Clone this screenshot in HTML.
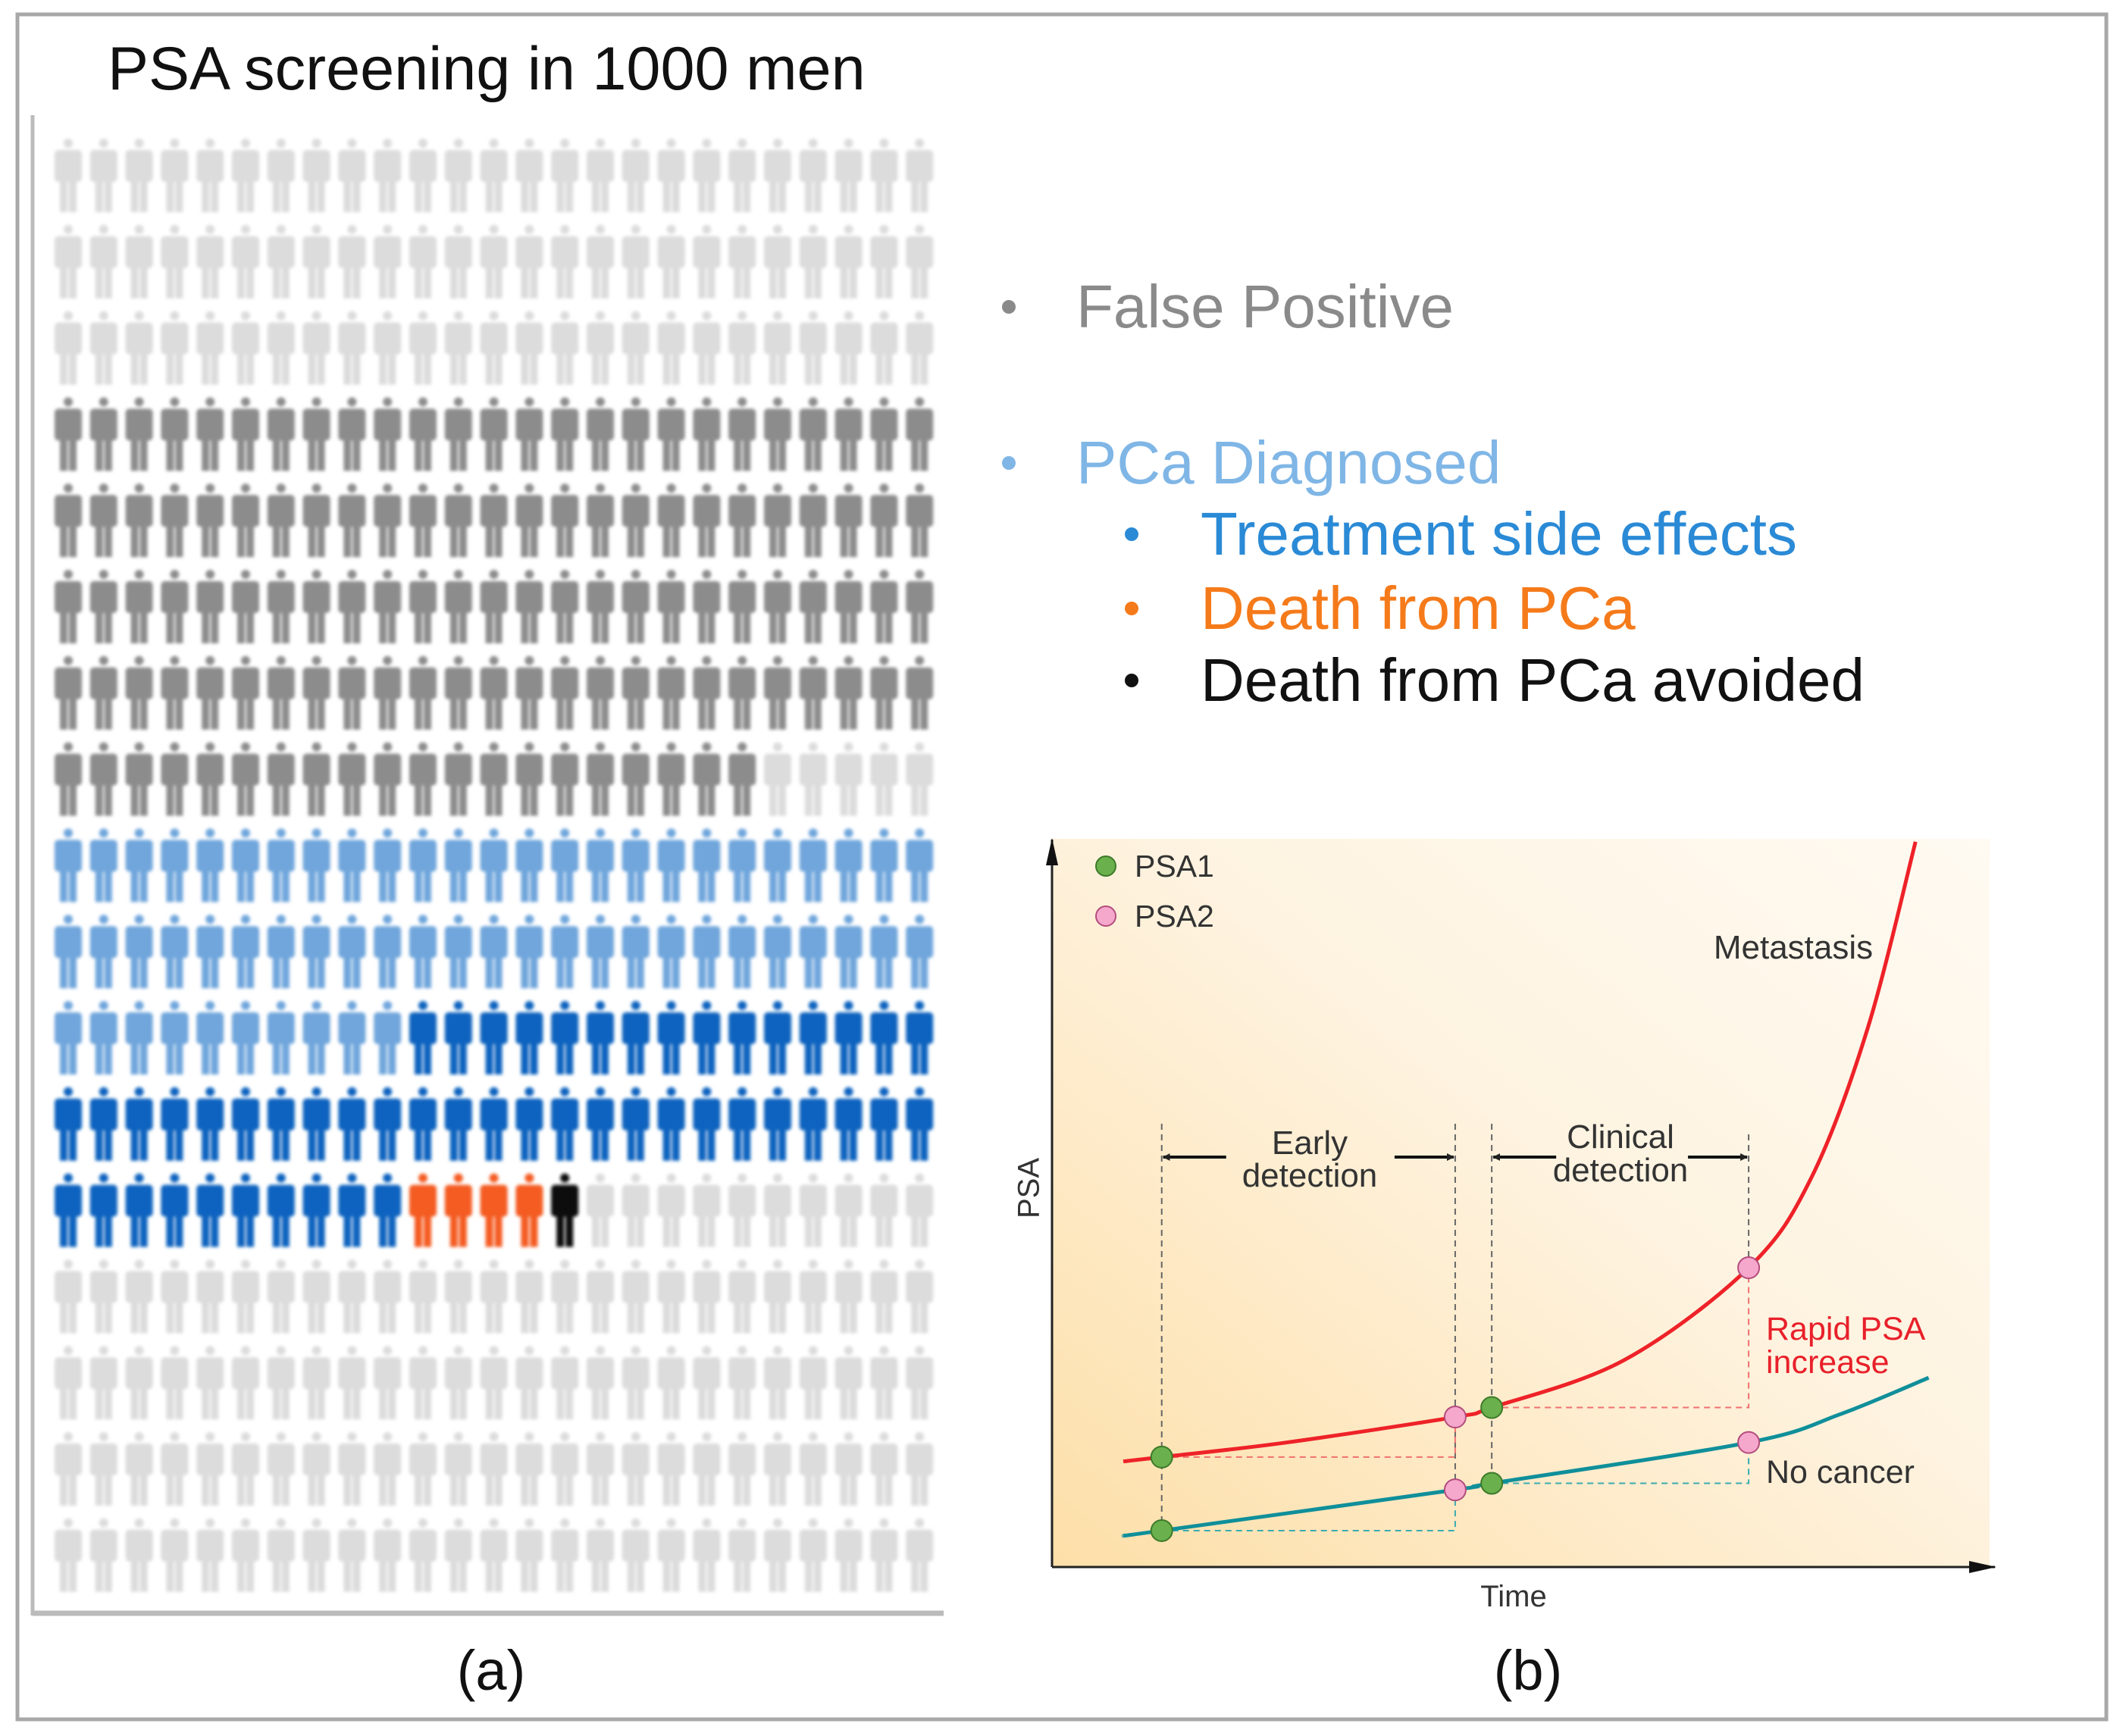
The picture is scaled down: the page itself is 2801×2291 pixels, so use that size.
<!DOCTYPE html>
<html><head><meta charset="utf-8">
<style>
html,body{margin:0;padding:0;background:#fff;}
body{width:2801px;height:2286px;position:relative;overflow:hidden;font-family:"Liberation Sans",sans-serif;}
</style></head>
<body>
<svg id="root" width="2801" height="2286" viewBox="0 0 2801 2286" xmlns="http://www.w3.org/2000/svg">
<defs>
  <filter id="blur" x="-20%" y="-20%" width="140%" height="140%"><feGaussianBlur stdDeviation="2"/></filter>
  <linearGradient id="bg" x1="0" y1="1" x2="1" y2="0">
    <stop offset="0" stop-color="#fddfa8"/>
    <stop offset="0.55" stop-color="#fef3e0"/>
    <stop offset="1" stop-color="#fffaf2"/>
  </linearGradient>
  <marker id="ah" markerWidth="10" markerHeight="10" refX="9" refY="5" orient="auto" markerUnits="userSpaceOnUse"><path d="M0,0 L10,5 L0,10 z" fill="#222"/></marker>
  <marker id="ahBig" markerWidth="36" markerHeight="20" refX="34" refY="10" orient="auto" markerUnits="userSpaceOnUse"><path d="M0,2 L36,10 L0,18 z" fill="#111"/></marker>
</defs>
<rect x="23" y="19" width="2756" height="2250" fill="none" stroke="#a8a8a8" stroke-width="5"/>
<text x="142" y="118" font-size="81" fill="#111">PSA screening in 1000 men</text>
<line x1="43" y1="152" x2="43" y2="2132" stroke="#bbb" stroke-width="5"/>
<line x1="43" y1="2129" x2="1245" y2="2129" stroke="#bbb" stroke-width="7"/>
<g id="icons" filter="url(#blur)"></g>

<g>
  <g><circle cx="1331" cy="405" r="9" fill="#8a8a8a"/><text x="1420" y="432" font-size="80" fill="#8a8a8a">False Positive</text></g>
  <g><circle cx="1331" cy="611" r="9" fill="#7fb6e6"/><text x="1420" y="638" font-size="80" fill="#7fb6e6">PCa Diagnosed</text></g>
  <g><circle cx="1493" cy="705" r="9" fill="#2a8ad6"/><text x="1584" y="732" font-size="80" fill="#2a8ad6">Treatment side effects</text></g>
  <g><circle cx="1493" cy="803" r="9" fill="#f57a1a"/><text x="1584" y="830" font-size="80" fill="#f57a1a">Death from PCa</text></g>
  <g><circle cx="1493" cy="898" r="9" fill="#111"/><text x="1584" y="925" font-size="80" fill="#111">Death from PCa avoided</text></g>
</g>

<g id="chart">
  <rect x="1388" y="1107" width="1237" height="961" fill="url(#bg)"/>
  <line x1="1388" y1="2068" x2="1388" y2="1108" stroke="#222" stroke-width="3" marker-end="url(#ahBig)"/>
  <line x1="1388" y1="2068" x2="2632" y2="2068" stroke="#222" stroke-width="3" marker-end="url(#ahBig)"/>
  <text x="1360" y="1568" font-size="40" fill="#333" text-anchor="middle" transform="rotate(-90 1360 1568)" dominant-baseline="middle">PSA</text>
  <text x="1997" y="2120" font-size="40" fill="#333" text-anchor="middle">Time</text>
  <g><circle cx="1459" cy="1143" r="13" fill="#6ab04c" stroke="#3d7a2a" stroke-width="2"/><text x="1497" y="1157" font-size="41" fill="#333">PSA1</text></g>
  <g><circle cx="1459" cy="1209" r="13" fill="#f6a8cc" stroke="#b34d7e" stroke-width="2"/><text x="1497" y="1223" font-size="41" fill="#333">PSA2</text></g>
  <g id="marks"></g>
  <text x="2366" y="1265" font-size="44" fill="#333" text-anchor="middle">Metastasis</text>
  <text x="1728" y="1523" font-size="44" fill="#333" text-anchor="middle">Early</text>
  <text x="1728" y="1566" font-size="44" fill="#333" text-anchor="middle">detection</text>
  <text x="2138" y="1515" font-size="44" fill="#333" text-anchor="middle">Clinical</text>
  <text x="2138" y="1559" font-size="44" fill="#333" text-anchor="middle">detection</text>
  <text x="2330" y="1768" font-size="43" fill="#e8202a">Rapid PSA</text>
  <text x="2330" y="1812" font-size="43" fill="#e8202a">increase</text>
  <text x="2330" y="1957" font-size="43" fill="#333">No cancer</text>
</g>
<text x="648" y="2230" font-size="74" fill="#111" text-anchor="middle">(a)</text>
<text x="2016" y="2230" font-size="74" fill="#111" text-anchor="middle">(b)</text>
</svg>
<script>
// ---- Icon grid data ----
const iconRowCategories = [
 ["L",25],["L",25],["L",25],
 ["D",25],["D",25],["D",25],["D",25],["D",20,"L",5],
 ["P",25],["P",25],["P",10,"B",15],["B",25],
 ["B",10,"O",4,"K",1,"L",10],
 ["L",25],["L",25],["L",25],["L",25]
];
const iconColors = {L:"#dcdcdc",D:"#8c8c8c",P:"#6fa6dc",B:"#0f64bf",O:"#f45c20",K:"#111111"};
const NS="http://www.w3.org/2000/svg";
const icons=document.getElementById('icons');
const col0=90, colStep=46.8, row0=183, rowStep=113.8;
iconRowCategories.forEach((row,r)=>{
  let c=0;
  for(let i=0;i<row.length;i+=2){
    for(let k=0;k<row[i+1];k++){
      const g=document.createElementNS(NS,'g');
      
      
      g.setAttribute('fill',iconColors[row[i]]);
      const x=col0+c*colStep, y=row0+r*rowStep;
      g.setAttribute('transform',`translate(${x},${y})`);
      g.innerHTML='<circle cx="0" cy="6" r="6"/><rect x="-18" y="15" width="36" height="42" rx="5"/><rect x="-11" y="52" width="10" height="45"/><rect x="1" y="52" width="10" height="45"/>';
      icons.appendChild(g);
      c++;
    }
  }
});

// ---- PSA chart data ----
const redTime = [7.6,11.7,25,43,46.9,61,74.3,81,87,92.1];
const redPSA  = [14.5,15.1,17.1,20.6,21.9,28.4,41.1,53.5,74,99.6];
const tealTime= [7.6,11.7,43,46.9,74.3,84.1,93.5];
const tealPSA = [4.3,5.0,10.6,11.5,17.1,21,26];
const psa1Time = [11.7,46.9];
const psa2Time = [43,74.3];
const X0=1388,X1=2625,Y0=2068,Y1=1107;
const xs=t=>X0+t/100*(X1-X0);
const ys=v=>Y0-v/100*(Y0-Y1);
function interp(T,V,t){for(let i=0;i<T.length-1;i++){if(t>=T[i]&&t<=T[i+1]){return V[i]+(V[i+1]-V[i])*(t-T[i])/(T[i+1]-T[i]);}}return V[V.length-1];}
function smoothPath(T,V){
  const p=T.map((t,i)=>[xs(t),ys(V[i])]);
  let d=`M${p[0][0]},${p[0][1]}`;
  for(let i=0;i<p.length-1;i++){
    const a=p[i-1]||p[i],b=p[i],c=p[i+1],e=p[i+2]||c;
    d+=` C${b[0]+(c[0]-a[0])/6},${b[1]+(c[1]-a[1])/6} ${c[0]-(e[0]-b[0])/6},${c[1]-(e[1]-b[1])/6} ${c[0]},${c[1]}`;
  }
  return d;
}
const marks=document.getElementById('marks');
function add(tag,attrs,name){const el=document.createElementNS(NS,tag);for(const k in attrs)el.setAttribute(k,attrs[k]);marks.appendChild(el);return el;}
const r=(t)=>interp(redTime,redPSA,t), q=(t)=>interp(tealTime,tealPSA,t);
const topY=1483;
[[psa1Time[0],q(psa1Time[0])],[psa2Time[0],q(psa2Time[0])],[psa1Time[1],q(psa1Time[1])]].forEach(([t,v])=>{
  add('line',{x1:xs(t),y1:topY,x2:xs(t),y2:ys(v),stroke:'#666','stroke-width':2,'stroke-dasharray':'8 6'},'guide-line');
});
add('line',{x1:xs(psa2Time[1]),y1:topY+14,x2:xs(psa2Time[1]),y2:ys(r(psa2Time[1])),stroke:'#666','stroke-width':2,'stroke-dasharray':'8 6'},'guide-line');
add('polyline',{points:`${xs(psa1Time[0])},${ys(r(psa1Time[0]))} ${xs(psa2Time[0])},${ys(r(psa1Time[0]))} ${xs(psa2Time[0])},${ys(r(psa2Time[0]))}`,fill:'none',stroke:'#f07070','stroke-width':2,'stroke-dasharray':'8 6'},'red-dashed-step');
add('polyline',{points:`${xs(psa1Time[1])},${ys(r(psa1Time[1]))} ${xs(psa2Time[1])},${ys(r(psa1Time[1]))} ${xs(psa2Time[1])},${ys(r(psa2Time[1]))}`,fill:'none',stroke:'#f07070','stroke-width':2,'stroke-dasharray':'8 6'},'red-dashed-step');
add('polyline',{points:`${xs(psa1Time[0])},${ys(q(psa1Time[0]))} ${xs(psa2Time[0])},${ys(q(psa1Time[0]))} ${xs(psa2Time[0])},${ys(q(psa2Time[0]))}`,fill:'none',stroke:'#3aabb0','stroke-width':2,'stroke-dasharray':'8 6'},'teal-dashed-step');
add('polyline',{points:`${xs(psa1Time[1])},${ys(q(psa1Time[1]))} ${xs(psa2Time[1])},${ys(q(psa1Time[1]))} ${xs(psa2Time[1])},${ys(q(psa2Time[1]))}`,fill:'none',stroke:'#3aabb0','stroke-width':2,'stroke-dasharray':'8 6'},'teal-dashed-step');
const ay=1527;
add('line',{x1:xs(psa1Time[0])+85,y1:ay,x2:xs(psa1Time[0])+2,y2:ay,stroke:'#111','stroke-width':4,'marker-end':'url(#ah)'},'early-arrow-left');
add('line',{x1:xs(psa2Time[0])-80,y1:ay,x2:xs(psa2Time[0])-2,y2:ay,stroke:'#111','stroke-width':4,'marker-end':'url(#ah)'},'early-arrow-right');
add('line',{x1:xs(psa1Time[1])+85,y1:ay,x2:xs(psa1Time[1])+2,y2:ay,stroke:'#111','stroke-width':4,'marker-end':'url(#ah)'},'clinical-arrow-left');
add('line',{x1:xs(psa2Time[1])-80,y1:ay,x2:xs(psa2Time[1])-2,y2:ay,stroke:'#111','stroke-width':4,'marker-end':'url(#ah)'},'clinical-arrow-right');
add('path',{d:smoothPath(tealTime,tealPSA),fill:'none',stroke:'#0f8f9a','stroke-width':5},'no-cancer-curve');
add('path',{d:smoothPath(redTime,redPSA),fill:'none',stroke:'#ee2228','stroke-width':5},'cancer-curve');
psa1Time.forEach(t=>{[r,q].forEach(f=>{add('circle',{cx:xs(t),cy:ys(f(t)),r:14,fill:'#6ab04c',stroke:'#3d7a2a','stroke-width':2},'psa1-marker');});});
psa2Time.forEach(t=>{[r,q].forEach(f=>{add('circle',{cx:xs(t),cy:ys(f(t)),r:14,fill:'#f6a8cc',stroke:'#b34d7e','stroke-width':2},'psa2-marker');});});
</script>
</body></html>
